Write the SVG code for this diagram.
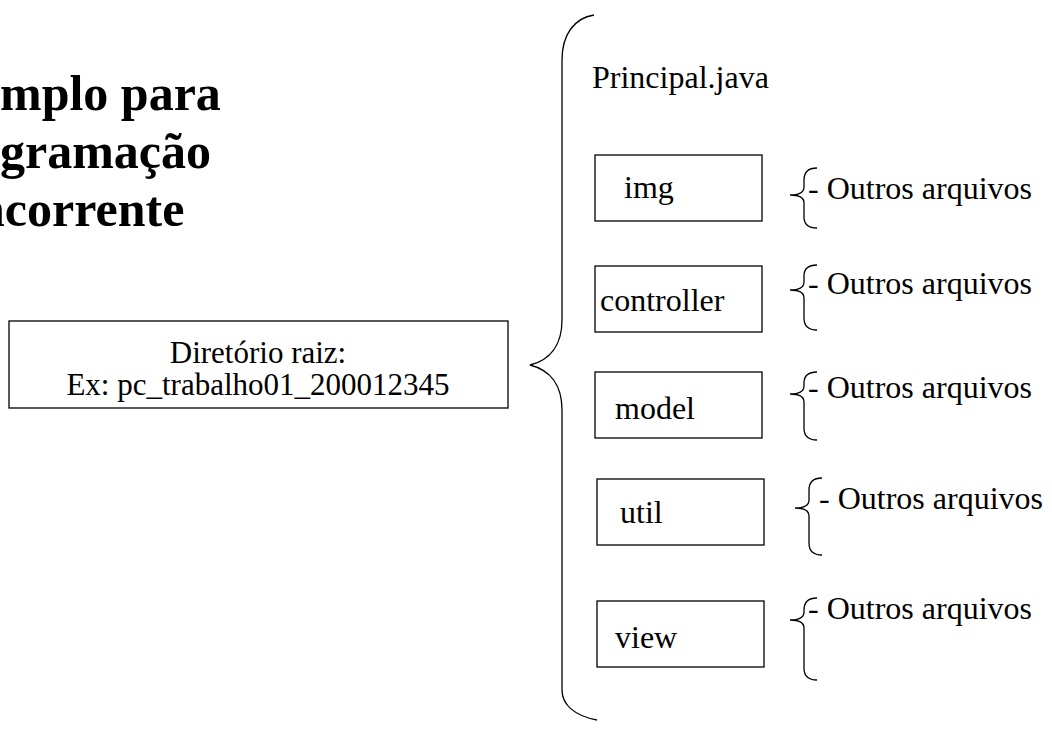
<svg xmlns="http://www.w3.org/2000/svg" width="1052" height="733" viewBox="0 0 1052 733">
<style>
.t{font-family:"Liberation Serif","Times New Roman",serif;font-size:32px;fill:#000}
.r{font-family:"Liberation Serif","Times New Roman",serif;font-size:31px;fill:#000}
.title{font-family:"Liberation Serif","Times New Roman",serif;font-size:50px;font-weight:bold;fill:#000}
.box{fill:#fff;stroke:#000;stroke-width:1.3}
.br{fill:none;stroke:#000;stroke-width:1.3}
</style>
<rect width="1052" height="733" fill="#fff"/>
<g id="title">
<text class="title" x="0" y="110">mplo para</text>
<text class="title" x="0" y="168">gramação</text>
<text class="title" x="-23" y="226">ncorrente</text>
</g>
<g id="root">
<rect class="box" x="9" y="321" width="499" height="87"/>
<text class="r" x="258" y="363" text-anchor="middle">Diretório raiz:</text>
<text class="r" x="258" y="395" text-anchor="middle">Ex: pc_trabalho01_200012345</text>
</g>
<g id="principal">
<text class="t" x="592" y="88">Principal.java</text>
</g>
<g id="img">
<rect class="box" x="595" y="155" width="167" height="66"/>
<text class="t" x="624" y="198">img</text>
</g>
<g id="controller">
<rect class="box" x="595" y="266" width="167" height="66"/>
<text class="t" x="600" y="311">controller</text>
</g>
<g id="model">
<rect class="box" x="595" y="372" width="167" height="66"/>
<text class="t" x="615" y="419">model</text>
</g>
<g id="util">
<rect class="box" x="597" y="479" width="167" height="66"/>
<text class="t" x="620" y="523">util</text>
</g>
<g id="view">
<rect class="box" x="597" y="601" width="167" height="66"/>
<text class="t" x="615" y="648">view</text>
</g>
<g id="files">
<text class="t" x="808" y="199">- Outros arquivos</text>
<text class="t" x="808" y="294">- Outros arquivos</text>
<text class="t" x="808" y="398">- Outros arquivos</text>
<text class="t" x="819" y="509">- Outros arquivos</text>
<text class="t" x="808" y="619">- Outros arquivos</text>
</g>
<g id="connectors">
<path class="br" d="M 594 15 C 574 18 562 35 562 60 L 562 320 C 562 345 550 360 530 365 C 550 370 562 385 562 410 L 562 690 C 562 705 575 716 597 720"/>
<path class="br" d="M 817 168 Q 804 168 804 180 L 804 187 Q 804 195 790 195 Q 804 195 804 203 L 804 217 Q 804 228 817 228"/>
<path class="br" d="M 817 265 Q 804 265 804 276 L 804 282 Q 804 290 790 290 Q 804 290 804 298 L 804 318 Q 804 330 817 330"/>
<path class="br" d="M 817 372 Q 804 372 804 383 L 804 386 Q 804 394 790 394 Q 804 394 804 402 L 804 428 Q 804 440 817 440"/>
<path class="br" d="M 822 478 Q 809 478 809 490 L 809 500 Q 809 508 795 508 Q 809 508 809 516 L 809 543 Q 809 555 822 555"/>
<path class="br" d="M 817 598 Q 804 598 804 610 L 804 612 Q 804 620 790 620 Q 804 620 804 628 L 804 668 Q 804 680 817 680"/>
</g>
</svg>
